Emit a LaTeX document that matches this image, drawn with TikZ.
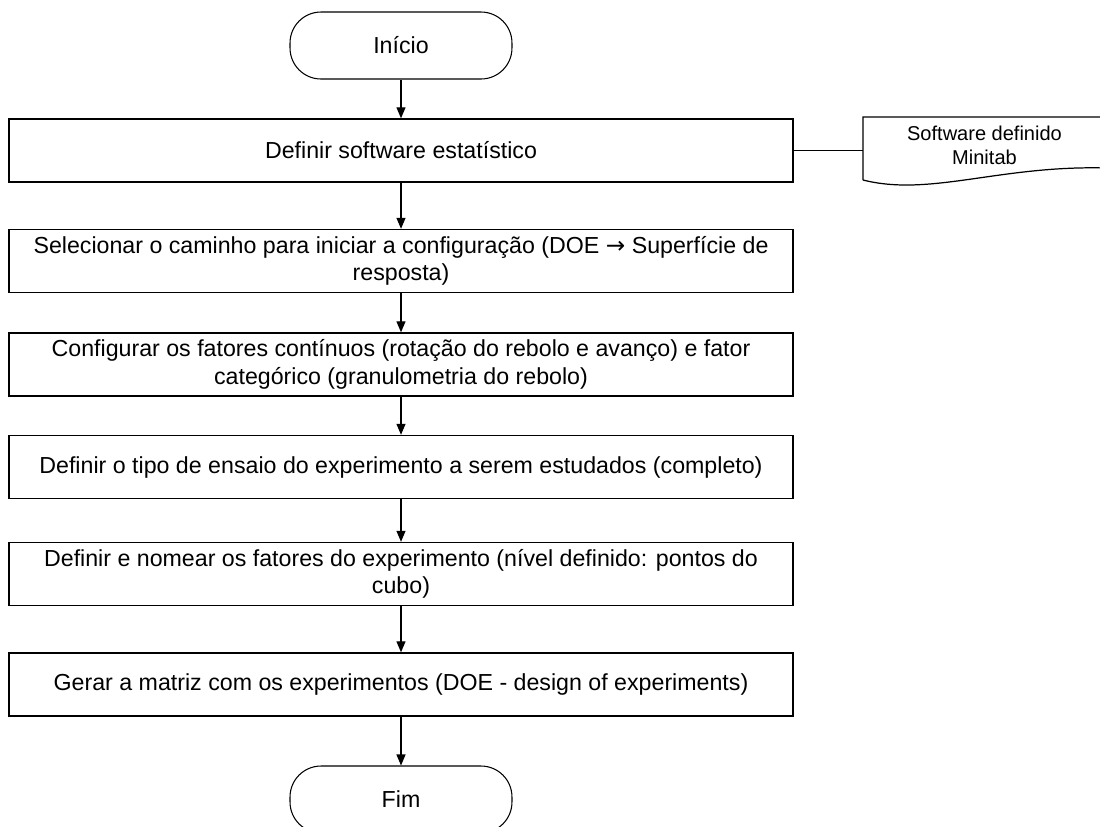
\documentclass[tikz,border=0pt]{standalone}
\usepackage{fontspec}
\setmainfont{Liberation Sans}
\newfontfamily\setafont{DejaVu Sans}
\usetikzlibrary{arrows.meta}

\tikzset{
  etapa/.style={draw, line width=0.8pt, minimum width=15.68cm, minimum height=1.26cm,
    inner sep=0pt, align=center, font=\fontsize{13.2}{15.6}\selectfont},
  terminal/.style={draw, line width=0.6pt, rounded corners=0.62cm, minimum width=4.44cm,
    minimum height=1.34cm, inner sep=0pt, font=\fontsize{13.2}{15.6}\selectfont},
  seta/.style={-{Triangle[length=0.22cm,width=0.18cm]}, line width=0.7pt}
}

\begin{document}
\begin{tikzpicture}[x=0.02cm, y=-0.02cm]
                % Area
                \useasboundingbox (0,0) rectangle (1100,826);
                \clip (0,0) rectangle (1100,826);

                % Start and end
                \node[terminal] (inicio) at (401,45.5) {Início};
                \node[terminal] (fim) at (401,799.5) {Fim};

                % Steps
                \node[etapa] (s1) at (401,150.5) {Definir software estatístico};
                \node[etapa] (s2) at (401,261) {Selecionar o caminho para iniciar a configuração (DOE {\setafont →} Superfície de\\resposta)};
                \node[etapa] (s3) at (401,364.5) {Configurar os fatores contínuos (rotação do rebolo e avanço) e fator\\categórico (granulometria do rebolo)};
                \node[etapa] (s4) at (401,467) {Definir o tipo de ensaio do experimento a serem estudados (completo)};
                \node[etapa] (s5) at (401,574) {Definir e nomear os fatores do experimento (nível definido: pontos do\\cubo)};
                \node[etapa] (s6) at (401,684.5) {Gerar a matriz com os experimentos (DOE - design of experiments)};

                % Document
                \node[align=center, minimum width=4.86cm, inner sep=0pt,
                  font=\fontsize{11.4}{13.7}\selectfont] (doc) at (984.5,145) {Software definido\\Minitab};
                \draw[line width=0.7pt] (863,180) -- (863,117) -- (1106,117) -- (1106,168)
                  .. controls (1000,165) and (930,197) .. (863,180);

                % Arrows
                \draw[seta] (inicio) -- (s1);
                \draw[seta] (s1) -- (s2);
                \draw[seta] (s2) -- (s3);
                \draw[seta] (s3) -- (s4);
                \draw[seta] (s4) -- (s5);
                \draw[seta] (s5) -- (s6);
                \draw[seta] (s6) -- (fim);
                \draw[line width=0.7pt] (s1.east) -- (s1.east -| doc.west);
            \end{tikzpicture}
\end{document}
